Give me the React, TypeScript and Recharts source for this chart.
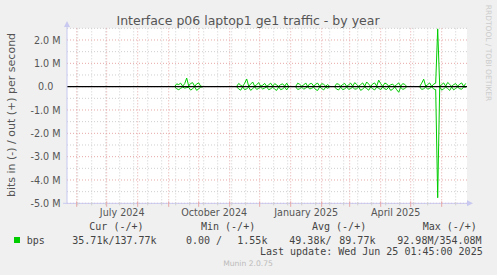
import React from 'react';
import { LineChart, Line, XAxis, YAxis, ReferenceLine, CartesianGrid } from 'recharts';

// ---- data (values in kbit/s; step = 2 days) ----
const STEP_DAYS = 2;
const clusterStartDays = [98, 160, 219, 258, 343]; // days since 1 Jun 2024
const outCluster1 = [10, 120, 90, 150, 20, 130, 370, 30, 140, 170, 10, 120, 160, 20, 10];
const inCluster1 = [10, 90, 130, 70, 20, 60, 40, 30, 150, 80, 10, 160, 90, 20, 10];
const outCluster2 = [10, 140, 60, 10, 150, 330, 20, 110, 200, 10, 90, 170, 20, 60, 140, 10, 80, 150, 20, 130, 70, 10, 90, 120, 20, 150, 10];
const inCluster2 = [10, 100, 150, 10, 130, 90, 20, 160, 80, 10, 120, 70, 20, 100, 60, 10, 130, 90, 20, 110, 160, 10, 130, 90, 20, 140, 10];
const outCluster3 = [10, 150, 100, 20, 70, 160, 10, 120, 140, 20, 110, 150, 10, 130, 100, 20, 90, 10];
const inCluster3 = [10, 120, 90, 20, 110, 60, 10, 100, 70, 20, 130, 160, 10, 80, 140, 20, 70, 10];
const outCluster4 = [10, 130, 100, 20, 90, 140, 10, 80, 150, 20, 170, 100, 10, 90, 160, 20, 200, 110, 10, 120, 160, 20, 280, 130, 10, 150, 120, 20, 80, 110, 10, 90, 160, 20, 130, 100, 10];
const inCluster4 = [10, 110, 140, 20, 130, 100, 10, 120, 80, 20, 110, 90, 10, 160, 100, 20, 80, 150, 10, 90, 140, 20, 70, 130, 10, 100, 120, 20, 160, 110, 10, 130, 240, 20, 120, 80, 10];
const outCluster5 = [10, 150, 320, 20, 90, 160, 10, 110, 150, 2480, 10, 90, 160, 20, 180, 100, 10, 90, 130, 20, 110, 160, 10, 137.77];
const inCluster5 = [10, 120, 90, 20, 110, 70, 10, 100, 130, 4760, 10, 150, 90, 20, 80, 160, 10, 140, 70, 20, 90, 110, 10, 35.71];

const outClusters = [outCluster1, outCluster2, outCluster3, outCluster4, outCluster5];
const inClusters = [inCluster1, inCluster2, inCluster3, inCluster4, inCluster5];

// ---- axes ----
const xDomain = [-9.7, 390.3];
const monthStartDays = [0, 30, 61, 92, 122, 153, 183, 214, 245, 273, 304, 334, 365];
const biweeklyDays = [1, 15, 29, 43, 57, 71, 85, 99, 113, 127, 141, 155, 169, 197, 211, 225, 239, 253, 267, 281, 295, 309, 323, 337, 351, 379];
const monthLabelDays = [45.5, 137.5, 229.5, 319];
const monthLabels = ['July 2024', 'October 2024', 'January 2025', 'April 2025'];
const yMajorTicks = [-5e6, -4e6, -3e6, -2e6, -1e6, 0, 1e6, 2e6];
const yMajorLabels = ['-5.0 M', '-4.0 M', '-3.0 M', '-2.0 M', '-1.0 M', '0.0', '1.0 M', '2.0 M'];
const yMinorTicks = [-4.5e6, -3.5e6, -2.5e6, -1.5e6, -0.5e6, 0.5e6, 1.5e6, 2.5e6];

// ---- legend ----
const legendHeaders = ['Cur (-/+)', 'Min (-/+)', 'Avg (-/+)', 'Max (-/+)'];
const legendSeries = 'bps';
const legendValues = ['35.71k/137.77k', '0.00 /', '1.55k', '49.38k/', '89.77k', '92.98M/354.08M'];
const lastUpdate = 'Last update: Wed Jun 25 01:45:00 2025';

const data: { d: number; outV: number | null; inV: number | null }[] = [];
clusterStartDays.forEach((start, ci) => {
  const o = outClusters[ci];
  const n = inClusters[ci];
  o.forEach((v, i) => {
    data.push({ d: start + i * STEP_DAYS, outV: v * 1000, inV: -n[i] * 1000 });
  });
  data.push({ d: start + o.length * STEP_DAYS, outV: null, inV: null });
});

const GREEN = '#00cc00';
const MAJOR = '#e8a8a8';
const MINOR = '#cfcfcf';
const AXIS = '#c8c8f0';
const SANS = '"DejaVu Sans", sans-serif';
const MONO = '"DejaVu Sans Mono", monospace';

const XTick = (props: any) => {
  const { x, y, payload } = props;
  const v = payload.value;
  const li = monthLabelDays.indexOf(v);
  if (li >= 0) {
    return (
      <text x={x} y={y + 12.7} textAnchor="middle" fontFamily={SANS} fontSize={9.6} fill="#555">
        {monthLabels[li]}
      </text>
    );
  }
  if (monthStartDays.indexOf(v) >= 0) {
    return <line x1={x} x2={x} y1={y - 2} y2={y + 3.5} stroke={MAJOR} strokeWidth={1} />;
  }
  return <line x1={x} x2={x} y1={y - 1} y2={y + 2} stroke={MINOR} strokeWidth={1} />;
};

const YTick = (props: any) => {
  const { x, y, payload } = props;
  const i = yMajorTicks.indexOf(payload.value);
  const label = yMajorLabels[i];
  const isZero = payload.value === 0;
  return (
    <text x={x - (isZero ? 13.7 : 6.5)} y={y + 3.8} textAnchor="end" fontFamily={SANS} fontSize={9.6} fill="#555">
      {label}
    </text>
  );
};

export default function App() {
  const xTicks = [...monthLabelDays, ...monthStartDays, ...biweeklyDays];
  return (
    <div style={{ position: 'absolute', left: 0, top: 0, width: 497, height: 275, background: '#f0f0f0', overflow: 'hidden' }}>
      <LineChart width={497} height={275} data={data} margin={{ top: 28.33, right: 30, bottom: 0, left: 0 }}>
        <CartesianGrid fill="#ffffff" horizontal={false} vertical={false} stroke="none" />
        {biweeklyDays.map((d) => (
          <ReferenceLine key={'bw' + d} x={d} stroke={MINOR} strokeDasharray="1 2" strokeWidth={1} />
        ))}
        {yMinorTicks.map((v) => (
          <ReferenceLine key={'ym' + v} y={v} stroke={MINOR} strokeDasharray="1 2" strokeWidth={1} />
        ))}
        {monthStartDays.map((d) => (
          <ReferenceLine key={'ms' + d} x={d} stroke={MAJOR} strokeDasharray="1 2" strokeWidth={1} />
        ))}
        {yMajorTicks.map((v) => (
          <ReferenceLine key={'yM' + v} y={v} stroke={MAJOR} strokeDasharray="1 2" strokeWidth={1} />
        ))}
        <XAxis
          dataKey="d"
          type="number"
          domain={xDomain}
          allowDataOverflow
          ticks={xTicks}
          interval={0}
          tick={<XTick />}
          tickLine={false}
          tickSize={0}
          tickMargin={0}
          height={71.67}
          axisLine={{ stroke: AXIS, strokeWidth: 1 }}
        />
        <YAxis
          type="number"
          domain={[-5e6, 2.5e6]}
          allowDataOverflow
          ticks={yMajorTicks}
          interval={0}
          tick={<YTick />}
          tickLine={false}
          tickSize={0}
          tickMargin={0}
          width={67}
          axisLine={{ stroke: AXIS, strokeWidth: 1 }}
        />
        <Line dataKey="outV" type="linear" stroke={GREEN} strokeWidth={1} dot={false} connectNulls={false} isAnimationActive={false} />
        <Line dataKey="inV" type="linear" stroke={GREEN} strokeWidth={1} dot={false} connectNulls={false} isAnimationActive={false} />
        <ReferenceLine y={0} stroke="#000000" strokeWidth={1.3} />
      </LineChart>
      <svg width={497} height={275} style={{ position: 'absolute', left: 0, top: 0, pointerEvents: 'none' }}>
        <line x1={67} x2={67} y1={24} y2={28.5} stroke={AXIS} />
        <polygon points="64,27 70,27 67,21" fill={AXIS} />
        <line x1={63} x2={67} y1={203.3} y2={203.3} stroke={AXIS} />
        <line x1={467} x2={470} y1={203.3} y2={203.3} stroke={AXIS} />
        <polygon points="467,200.3 467,206.3 473,203.3" fill={AXIS} />
        <text x={248} y={24.5} textAnchor="middle" fontFamily={SANS} fontSize={12.5} fill="#555">
          Interface p06 laptop1 ge1 traffic - by year
        </text>
        <text transform="translate(11.5,115) rotate(-90)" textAnchor="middle" dominantBaseline="central" fontFamily={SANS} fontSize={11} fill="#555">
          bits in (-) / out (+) per second
        </text>
        <text transform="translate(488,53) rotate(90)" textAnchor="middle" dominantBaseline="central" fontFamily={SANS} fontSize={7.5} fill="#cccccc">
          RRDTOOL / TOBI OETIKER
        </text>
        <g fontFamily={MONO} fontSize={10} fill="#444">
          <text x={89.3} y={230.3}>{legendHeaders[0]}</text>
          <text x={201} y={230.3}>{legendHeaders[1]}</text>
          <text x={312} y={230.3}>{legendHeaders[2]}</text>
          <text x={422.7} y={230.3}>{legendHeaders[3]}</text>
          <rect x={14} y={237} width={6} height={6} fill={GREEN} />
          <text x={26.7} y={243.5}>{legendSeries}</text>
          <text x={72.3} y={243.5}>{legendValues[0]}</text>
          <text x={186} y={243.5}>{legendValues[1]}</text>
          <text x={237.3} y={243.5}>{legendValues[2]}</text>
          <text x={289.3} y={243.5}>{legendValues[3]}</text>
          <text x={339.3} y={243.5}>{legendValues[4]}</text>
          <text x={397.3} y={243.5}>{legendValues[5]}</text>
          <text x={482.7} y={255.3} textAnchor="end">{lastUpdate}</text>
        </g>
        <text x={248} y={266} textAnchor="middle" fontFamily={SANS} fontSize={7.6} fill="#bbbbbb">
          Munin 2.0.75
        </text>
      </svg>
    </div>
  );
}
